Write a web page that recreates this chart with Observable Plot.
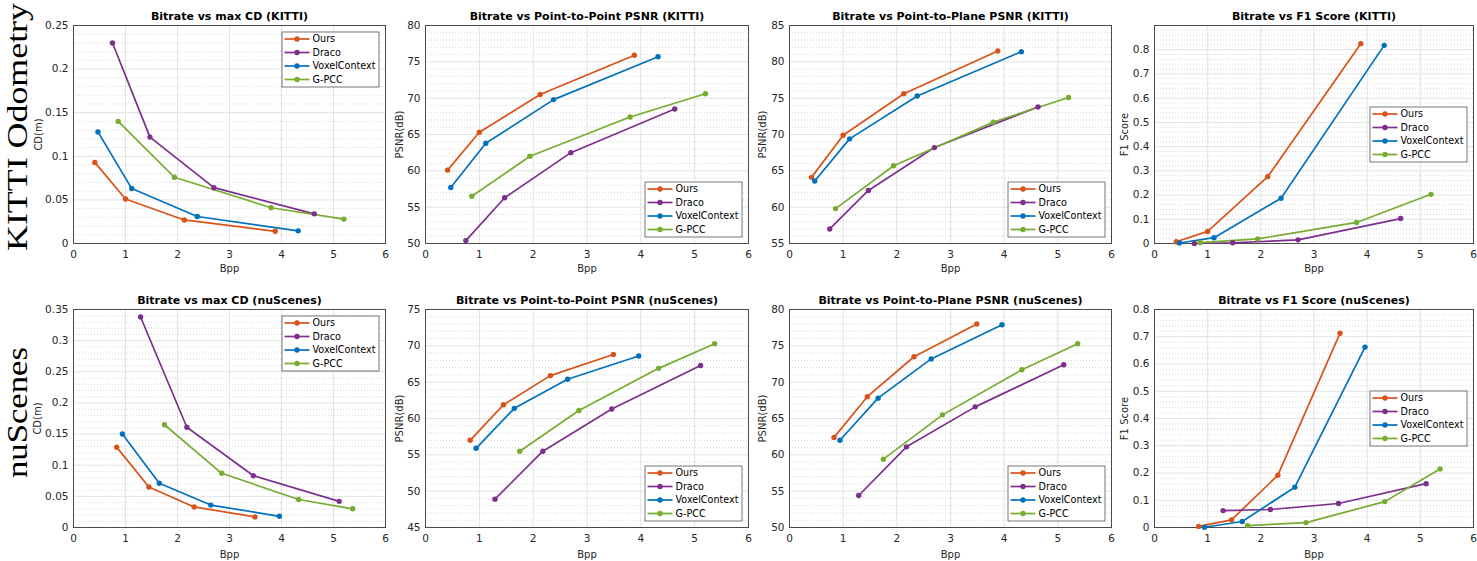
<!DOCTYPE html>
<html><head><meta charset="utf-8">
<script src="https://cdn.jsdelivr.net/npm/d3@7"></script>
<script src="https://cdn.jsdelivr.net/npm/@observablehq/plot@0.6"></script>
<style>
html,body{margin:0;padding:0;background:#fff;}
#root{position:relative;width:1477px;height:561px;overflow:hidden;font-family:"DejaVu Sans",sans-serif;}
#root svg{position:absolute;}
</style></head><body><div id="root"></div>
<script>
// ---- data ----
const methods = ["Ours", "Draco", "VoxelContext", "G-PCC"];
const colors = ["#D95319", "#7E2F8E", "#0072BD", "#77AC30"];
const datasets = ["KITTI Odometry", "nuScenes"];
const xTicks = [0, 1, 2, 3, 4, 5, 6];

// bits per point, per method (Ours, Draco, VoxelContext, G-PCC)
const kittiBpp = [[0.41, 1.00, 2.13, 3.88], [0.75, 1.47, 2.70, 4.63], [0.47, 1.12, 2.38, 4.32], [0.86, 1.94, 3.80, 5.20]];
const nusBpp = [[0.83, 1.45, 2.32, 3.49], [1.29, 2.18, 3.46, 5.11], [0.94, 1.65, 2.64, 3.96], [1.75, 2.85, 4.33, 5.37]];

const kittiCD = [[0.093, 0.051, 0.027, 0.014], [0.230, 0.122, 0.064, 0.034], [0.128, 0.063, 0.031, 0.0145], [0.140, 0.076, 0.041, 0.028]];
const kittiP2P = [[60.1, 65.3, 70.5, 75.9], [50.4, 56.3, 62.5, 68.5], [57.7, 63.8, 69.8, 75.7], [56.5, 62.0, 67.4, 70.6]];
const kittiP2Plane = [[64.1, 69.9, 75.6, 81.5], [57.0, 62.3, 68.2, 73.8], [63.6, 69.4, 75.3, 81.4], [59.8, 65.7, 71.7, 75.1]];
const kittiF1 = [[0.007, 0.050, 0.276, 0.825], [0.000, 0.003, 0.015, 0.103], [0.002, 0.024, 0.187, 0.818], [0.004, 0.019, 0.087, 0.203]];

const nusCD = [[0.129, 0.065, 0.033, 0.017], [0.338, 0.161, 0.083, 0.042], [0.150, 0.071, 0.036, 0.018], [0.165, 0.087, 0.045, 0.030]];
const nusP2P = [[57.0, 61.9, 65.9, 68.8], [48.9, 55.5, 61.3, 67.3], [55.9, 61.4, 65.4, 68.6], [55.5, 61.1, 66.9, 70.3]];
const nusP2Plane = [[62.4, 68.0, 73.5, 78.0], [54.4, 61.1, 66.6, 72.4], [62.0, 67.8, 73.2, 77.9], [59.4, 65.5, 71.7, 75.3]];
const nusF1 = [[0.004, 0.028, 0.192, 0.713], [0.062, 0.066, 0.088, 0.161], [0.001, 0.022, 0.148, 0.662], [0.007, 0.018, 0.095, 0.215]];

// y tick values
const cdKittiTicks = [0, 0.05, 0.1, 0.15, 0.2, 0.25];
const p2pKittiTicks = [50, 55, 60, 65, 70, 75, 80];
const p2planeKittiTicks = [55, 60, 65, 70, 75, 80, 85];
const f1Ticks = [0, 0.1, 0.2, 0.3, 0.4, 0.5, 0.6, 0.7, 0.8];
const cdNusTicks = [0, 0.05, 0.1, 0.15, 0.2, 0.25, 0.3, 0.35];
const p2pNusTicks = [45, 50, 55, 60, 65, 70, 75];
const p2planeNusTicks = [50, 55, 60, 65, 70, 75, 80];

const panels = [
  {row: 0, col: 0, title: "Bitrate vs max CD (KITTI)", ylabel: "CD(m)", bpp: kittiBpp, values: kittiCD, domain: [0, 0.25], ticks: cdKittiTicks, minor: 0.01, legend: "ne", yl: 35},
  {row: 0, col: 1, title: "Bitrate vs Point-to-Point PSNR (KITTI)", ylabel: "PSNR(dB)", bpp: kittiBpp, values: kittiP2P, domain: [50, 80], ticks: p2pKittiTicks, minor: 1, legend: "se", yl: 26},
  {row: 0, col: 2, title: "Bitrate vs Point-to-Plane PSNR (KITTI)", ylabel: "PSNR(dB)", bpp: kittiBpp, values: kittiP2Plane, domain: [55, 85], ticks: p2planeKittiTicks, minor: 1, legend: "se", yl: 27},
  {row: 0, col: 3, title: "Bitrate vs F1 Score (KITTI)", ylabel: "F1 Score", bpp: kittiBpp, values: kittiF1, domain: [0, 0.9], ticks: f1Ticks, minor: 0.02, legend: "e", yl: 30},
  {row: 1, col: 0, title: "Bitrate vs max CD (nuScenes)", ylabel: "CD(m)", bpp: nusBpp, values: nusCD, domain: [0, 0.35], ticks: cdNusTicks, minor: 0.01, legend: "ne", yl: 36},
  {row: 1, col: 1, title: "Bitrate vs Point-to-Point PSNR (nuScenes)", ylabel: "PSNR(dB)", bpp: nusBpp, values: nusP2P, domain: [45, 75], ticks: p2pNusTicks, minor: 1, legend: "se", yl: 26},
  {row: 1, col: 2, title: "Bitrate vs Point-to-Plane PSNR (nuScenes)", ylabel: "PSNR(dB)", bpp: nusBpp, values: nusP2Plane, domain: [50, 80], ticks: p2planeNusTicks, minor: 1, legend: "se", yl: 27},
  {row: 1, col: 3, title: "Bitrate vs F1 Score (nuScenes)", ylabel: "F1 Score", bpp: nusBpp, values: nusF1, domain: [0, 0.8], ticks: f1Ticks, minor: 0.02, legend: "e", yl: 30}
];

// ---- layout ----
const frameCols = [[73, 385], [425, 748], [789, 1111], [1154, 1473]];
const frameRows = [[25, 243], [309, 527]];
const root = document.getElementById("root");
const mL = 50, mR = 4, mT = 26, mB = 36;

panels.forEach(p => {
  const [fl, fr] = frameCols[p.col];
  const [ft, fb] = frameRows[p.row];
  const rows = [];
  methods.forEach((m, i) => p.bpp[i].forEach((b, j) => rows.push({method: m, bpp: b, v: p.values[i][j]})));
  const minor = d3.range(Math.round((p.domain[1] - p.domain[0]) / p.minor) + 1)
    .map(k => +(p.domain[0] + k * p.minor).toFixed(6))
    .filter(v => !p.ticks.some(t => Math.abs(t - v) < 1e-9));
  const txt = {textAnchor: "middle", lineAnchor: "middle", text: d => d};
  const chart = Plot.plot({
    width: fr - fl + mL + mR,
    height: fb - ft + mT + mB,
    marginLeft: mL, marginRight: mR, marginTop: mT, marginBottom: mB,
    x: {domain: [0, 6]},
    y: {domain: p.domain},
    color: {domain: methods, range: colors},
    style: {background: "transparent", fontFamily: "DejaVu Sans", color: "#262626", overflow: "visible"},
    marks: [
      Plot.gridY(minor, {stroke: "#cdcdcd", strokeOpacity: 1, strokeDasharray: "1,2", strokeWidth: 0.8}),
      Plot.gridX(xTicks, {stroke: "#e2e2e2", strokeOpacity: 1}),
      Plot.gridY(p.ticks, {stroke: "#e2e2e2", strokeOpacity: 1}),
      Plot.frame({stroke: "#4a4a4a", strokeWidth: 1}),
      Plot.axisX(xTicks, {label: null, tickSize: 0, tickPadding: 7, fontSize: 10.5, tickFormat: d => String(d)}),
      Plot.axisY(p.ticks, {label: null, tickSize: 0, tickPadding: 5, fontSize: 10.5, tickFormat: d => String(d)}),
      Plot.line(rows, {x: "bpp", y: "v", stroke: "method", z: "method", strokeWidth: 1.7}),
      Plot.dot(rows, {x: "bpp", y: "v", fill: "method", r: 2.7}),
      Plot.text([p.title], {...txt, frameAnchor: "top", dy: -9, fontWeight: "bold", fontSize: 11, fill: "#000"}),
      Plot.text(["Bpp"], {...txt, frameAnchor: "bottom", dy: p.row === 0 ? 25.5 : 27.5, fontSize: 10, fill: "#262626"}),
      Plot.text([p.ylabel], {...txt, frameAnchor: "left", dx: -p.yl, rotate: -90, fontSize: 10, fill: "#262626"})
    ]
  });
  chart.style.left = (fl - mL) + "px";
  chart.style.top = (ft - mT) + "px";
  root.appendChild(chart);
});

// ---- overlay: row labels and legends ----
const ov = d3.select(root).append("svg")
  .attr("width", 1477).attr("height", 561)
  .style("left", "0px").style("top", "0px").style("pointer-events", "none");

const rowLabel = [{t: datasets[0], y: 251, len: 248}, {t: datasets[1], y: 478, len: 131}];
rowLabel.forEach(r => {
  ov.append("text")
    .attr("transform", `translate(27,${r.y}) rotate(-90)`)
    .attr("font-family", "Liberation Serif, DejaVu Serif, serif")
    .attr("font-size", 30)
    .attr("textLength", r.len)
    .attr("lengthAdjust", "spacingAndGlyphs")
    .attr("fill", "#000")
    .text(r.t);
});

const lw = 97, lh = 55, inset = 6.5;
panels.forEach(p => {
  const [fl, fr] = frameCols[p.col];
  const [ft, fb] = frameRows[p.row];
  const x0 = fr - inset - lw;
  const y0 = p.legend === "ne" ? ft + inset : p.legend === "se" ? fb - inset - lh : (ft + fb) / 2 - lh / 2;
  const g = ov.append("g").attr("transform", `translate(${x0},${y0})`);
  g.append("rect").attr("x", 0.5).attr("y", 0.5).attr("width", lw).attr("height", lh)
    .attr("fill", "#fff").attr("stroke", "#555").attr("stroke-width", 0.8);
  methods.forEach((m, i) => {
    const yy = 7.5 + 13.5 * i;
    g.append("line").attr("x1", 3).attr("x2", 28).attr("y1", yy).attr("y2", yy)
      .attr("stroke", colors[i]).attr("stroke-width", 1.7);
    g.append("circle").attr("cx", 15.5).attr("cy", yy).attr("r", 2.7).attr("fill", colors[i]);
    g.append("text").attr("x", 31).attr("y", yy).attr("dy", "0.35em")
      .attr("font-family", "DejaVu Sans, sans-serif").attr("font-size", 9.6).attr("fill", "#000")
      .text(m);
  });
});
</script>
</body></html>
